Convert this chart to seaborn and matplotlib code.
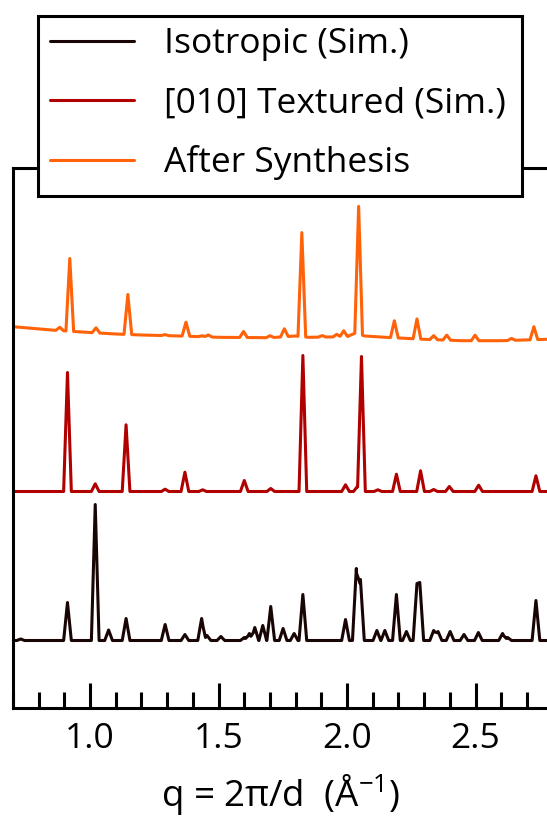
"""
Stacked diffraction patterns: simulated isotropic, simulated [010] textured
and the measured pattern after synthesis.
"""

import numpy as np
import pandas as pd
import matplotlib
matplotlib.use("Agg")
import matplotlib.pyplot as plt
import seaborn as sns
from matplotlib.patches import Rectangle
from matplotlib.ticker import MultipleLocator, FormatStrFormatter

# Series shown in the legend (top to bottom) and their colours
SERIES_LABELS = ["Isotropic (Sim.)", "[010] Textured (Sim.)", "After Synthesis"]
SERIES_COLORS = ["#1a0505", "#b00000", "#ff6208"]

# q window shown on the x axis
Q_MIN, Q_MAX = 0.70, 2.778

# Isotropic (simulated) - peak positions and heights (arb. units)
iso_peak_q = [0.730, 0.912, 1.020, 1.072, 1.140, 1.292, 1.369, 1.434, 1.455,
              1.509, 1.600, 1.620, 1.641, 1.672, 1.703, 1.751, 1.794, 1.828,
              1.994, 2.036, 2.052, 2.116, 2.147, 2.192, 2.231, 2.272, 2.283,
              2.337, 2.354, 2.401, 2.455, 2.511, 2.605, 2.625, 2.735]
iso_peak_h = [1.5, 38, 136, 10.5, 22, 16, 6, 22, 5,
              4, 3, 7, 13, 15, 34, 12, 7, 46,
              21, 72, 61, 10, 10, 46, 9, 57, 58,
              10, 9, 9, 6, 8, 7, 3, 40]
iso_base_q = [0.70, 2.778]
iso_base_i = [67.5, 67.5]

# [010] textured (simulated)
tex_peak_q = [0.912, 1.020, 1.140, 1.292, 1.369, 1.438, 1.600, 1.703, 1.828,
              1.994, 2.040, 2.056, 2.120, 2.192, 2.286, 2.337, 2.398, 2.512,
              2.735]
tex_peak_h = [119, 7.7, 66.7, 2.3, 19.3, 1.7, 11, 3, 136,
              6.7, 5, 135, 1.7, 17.3, 20.7, 2, 5, 6.3,
              15.7]
tex_base_q = [0.70, 2.778]
tex_base_i = [216.5, 216.5]

# After synthesis (measured)
syn_peak_q = [0.882, 0.921, 1.023, 1.147, 1.292, 1.373, 1.436, 1.460, 1.597,
              1.700, 1.756, 1.824, 1.903, 1.960, 1.987, 2.045, 2.184, 2.272,
              2.337, 2.388, 2.498, 2.640, 2.727]
syn_peak_h = [3.3, 72.7, 5, 40, 1, 14, 1, 2, 6,
              2, 8, 104, 1.5, 2.5, 6, 128, 17, 20,
              4, 5, 5.5, 2, 13]
syn_base_q = [0.70, 0.85, 0.95, 1.10, 1.20, 1.35, 1.50, 1.70, 1.80, 1.85,
              2.00, 2.03, 2.07, 2.15, 2.30, 2.45, 2.60, 2.778]
syn_base_i = [381.3, 378, 376.3, 374, 373, 372, 370.7, 370.3, 372, 370.7,
              371.3, 374.7, 372, 370.7, 368.7, 367.3, 367.3, 368.7]

PEAK_HALF_WIDTH = 0.015


def buildTrace(peakQ, peakH, baseQ, baseI, halfWidth=PEAK_HALF_WIDTH):
    """Stick pattern drawn as narrow triangles sitting on a baseline."""
    peakQ = np.asarray(peakQ, dtype=float)
    peakH = np.asarray(peakH, dtype=float)
    q = np.concatenate([baseQ, peakQ - halfWidth, peakQ, peakQ + halfWidth])
    q = np.unique(q)
    q = q[(q >= baseQ[0]) & (q <= baseQ[-1])]
    tri = np.clip(1 - np.abs(q[:, None] - peakQ[None, :]) / halfWidth, 0, None)
    return q, np.interp(q, baseQ, baseI) + (tri * peakH).max(axis=1)


frames = []
for label, pq, ph, bq, bi in [
    (SERIES_LABELS[0], iso_peak_q, iso_peak_h, iso_base_q, iso_base_i),
    (SERIES_LABELS[1], tex_peak_q, tex_peak_h, tex_base_q, tex_base_i),
    (SERIES_LABELS[2], syn_peak_q, syn_peak_h, syn_base_q, syn_base_i),
]:
    q, inten = buildTrace(pq, ph, bq, bi)
    frames.append(pd.DataFrame({"q": q, "intensity": inten, "pattern": label}))
df = pd.concat(frames, ignore_index=True)

# Style
sns.set_style("ticks")
plt.rcParams["font.family"] = ["Open Sans", "DejaVu Sans"]
plt.rcParams["mathtext.fontset"] = "custom"
plt.rcParams["mathtext.rm"] = "Open Sans"
plt.rcParams["text.color"] = "black"
plt.rcParams["axes.labelcolor"] = "black"
plt.rcParams["xtick.color"] = "black"
FONT_SIZE = 25.5

fig = plt.figure(figsize=(5.47, 8.17), dpi=100)
ax = fig.add_axes([13 / 547, 109 / 817, 534 / 547, 540 / 817])

for label, color in zip(SERIES_LABELS, SERIES_COLORS):
    sns.lineplot(data=df[df["pattern"] == label], x="q", y="intensity",
                 color=color, linewidth=2.2, estimator=None, sort=True,
                 label=label, ax=ax)

handles, labels = ax.get_legend_handles_labels()
ax.get_legend().remove()

ax.set_xlim(Q_MIN, Q_MAX)
ax.set_ylim(0, 540)
ax.set_yticks([])
ax.set_ylabel("")
ax.xaxis.set_major_locator(MultipleLocator(0.5))
ax.xaxis.set_minor_locator(MultipleLocator(0.1))
ax.xaxis.set_major_formatter(FormatStrFormatter("%.1f"))
ax.tick_params(axis="x", which="major", direction="in", length=18, width=2.2,
               labelsize=FONT_SIZE, labelcolor="black", pad=10, top=False)
ax.tick_params(axis="x", which="minor", direction="in", length=11.5, width=2.2,
               top=False)
ax.set_xlabel("q = 2π/d  (Å$^{-1}$)", fontsize=FONT_SIZE + 1, labelpad=12,
              color="black")

for side in ["left", "bottom", "top"]:
    ax.spines[side].set_linewidth(2.2)
    ax.spines[side].set_color("black")
ax.spines["right"].set_visible(False)

# Legend box sitting across the top spine
box = Rectangle((37.5 / 547, 1 - 196 / 817), (522 - 37.5) / 547, 180 / 817,
                transform=fig.transFigure, facecolor="white", edgecolor="black",
                linewidth=2.2, zorder=4)
fig.patches.append(box)
leg = fig.legend(handles, labels, loc="upper left",
                 bbox_to_anchor=(50 / 547, 1 - 27 / 817), frameon=False,
                 fontsize=FONT_SIZE, handlelength=2.37, handletextpad=0.86,
                 labelspacing=0.71, borderpad=0, borderaxespad=0)
for txt in leg.get_texts():
    txt.set_color("black")

fig.savefig("out.png", dpi=100)
